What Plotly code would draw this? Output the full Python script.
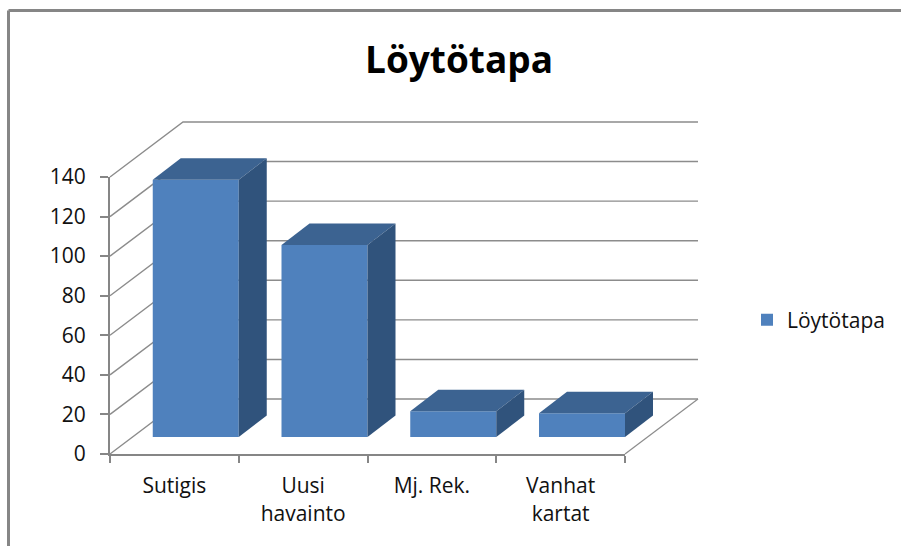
import plotly.graph_objects as go

# data
categories = ["Sutigis", "Uusi<br>havainto", "Mj. Rek.", "Vanhat<br>kartat"]
values = [130, 97, 13, 12]
y_ticks = [0, 20, 40, 60, 80, 100, 120, 140]
series_name = "Löytötapa"
title_text = "Löytötapa"

# page geometry (pixels)
W, H = 901, 546
L, R, T, B = 110, 625, 177, 454
PX_X = (R - L) / len(categories)
PX_Y = (B - T) / y_ticks[-1]

# oblique projection, expressed in axis units
wall_dx, wall_dy = 73 / PX_X, 55 / PX_Y
bar_dx, bar_dy = 28 / PX_X, 21.5 / PX_Y
bar_base = 17 / PX_Y
bar_width = 86 / PX_X

FRONT, TOP, SIDE = "#4F81BD", "#3C6391", "#30537C"
AXIS, GRID = "#868686", "#8C8C8C"
FONT = "Open Sans"
TEXT = "#111111"

# full-page axes in the same units as the visible axes, so the 3D parts can
# run past the visible plot area
full_x = [-L / PX_X, (W - L) / PX_X]
full_y = [(B - H) / PX_Y, B / PX_Y]

fig = go.Figure()

# empty trace so that the visible axes exist
fig.add_trace(go.Scatter(x=[], y=[], showlegend=False, hoverinfo="skip"))

# walls and floor
for v in y_ticks:
    fig.add_trace(go.Scatter(
        x=[0, wall_dx, len(values) + wall_dx],
        y=[v, v + wall_dy, v + wall_dy],
        mode="lines", line=dict(color=GRID, width=1.4),
        showlegend=False, hoverinfo="skip", xaxis="x2", yaxis="y2"))
fig.add_trace(go.Scatter(
    x=[len(values), len(values) + wall_dx], y=[0, wall_dy],
    mode="lines", line=dict(color=GRID, width=1.2),
    showlegend=False, hoverinfo="skip", xaxis="x2", yaxis="y2"))

# bars
xc = [i + 1 - bar_width / 2 for i in range(len(values))]
fig.add_trace(go.Bar(
    x=xc, y=values, base=[bar_base] * len(values), width=bar_width,
    name=series_name, marker=dict(color=FRONT, line=dict(width=0)),
    xaxis="x3", yaxis="y3"))
for c, v in zip(xc, values):
    x0, x1 = c - bar_width / 2, c + bar_width / 2
    y0, y1 = bar_base, bar_base + v
    fig.add_trace(go.Scatter(
        x=[x0, x1, x1 + bar_dx, x0 + bar_dx, x0],
        y=[y1, y1, y1 + bar_dy, y1 + bar_dy, y1],
        mode="lines", fill="toself", fillcolor=TOP, line=dict(width=0, color=TOP),
        showlegend=False, hoverinfo="skip", xaxis="x3", yaxis="y3"))
    fig.add_trace(go.Scatter(
        x=[x1, x1 + bar_dx, x1 + bar_dx, x1, x1],
        y=[y0, y0 + bar_dy, y1 + bar_dy, y1, y0],
        mode="lines", fill="toself", fillcolor=SIDE, line=dict(width=0, color=SIDE),
        showlegend=False, hoverinfo="skip", xaxis="x3", yaxis="y3"))

frame = dict(color=AXIS, width=3)
hidden_x = dict(range=full_x, domain=[0, 1], visible=False, anchor="y2")
hidden_y = dict(range=full_y, domain=[0, 1], visible=False, anchor="x2")

fig.update_layout(
    width=W, height=H, autosize=False,
    margin=dict(l=0, r=0, t=0, b=0, pad=0, autoexpand=False),
    paper_bgcolor="white", plot_bgcolor="rgba(0,0,0,0)",
    font=dict(family=FONT, size=21, color=TEXT),
    title=dict(text=f"<b>{title_text}</b>", x=459 / W, y=1 - 60 / H,
               xanchor="center", yanchor="middle",
               font=dict(family=FONT, size=37, color="black")),
    showlegend=True,
    legend=dict(x=747 / W, y=1 - 320 / H, xanchor="left", yanchor="middle",
                font=dict(family=FONT, size=21, color=TEXT), bgcolor="rgba(0,0,0,0)"),
    xaxis=dict(domain=[L / W, R / W], anchor="y",
               range=[0, len(values)], tickmode="array",
               tickvals=[i + 0.5 for i in range(len(values))], ticktext=categories,
               ticks="", showgrid=False, zeroline=False,
               showline=True, linecolor=AXIS, linewidth=2,
               ticklabelstandoff=12,
               minor=dict(ticks="outside", tickmode="array",
                          tickvals=list(range(len(values) + 1)),
                          ticklen=7, tickwidth=2, tickcolor=AXIS, showgrid=False)),
    yaxis=dict(domain=[1 - B / H, 1 - T / H], anchor="x",
               range=[y_ticks[0], y_ticks[-1]], tickmode="array", tickvals=y_ticks,
               ticks="outside", ticklen=8, tickwidth=2, tickcolor=AXIS,
               showgrid=False, zeroline=False,
               showline=True, linecolor=AXIS, linewidth=2,
               ticklabelstandoff=10),
    xaxis2=hidden_x,
    yaxis2=hidden_y,
    xaxis3={**hidden_x, "anchor": "y3"},
    yaxis3={**hidden_y, "anchor": "x3"},
    shapes=[
        dict(type="line", xref="paper", yref="paper", x0=8.5 / W, x1=1.01,
             y0=1 - 10.5 / H, y1=1 - 10.5 / H, line=frame),
        dict(type="line", xref="paper", yref="paper", x0=8.5 / W, x1=8.5 / W,
             y0=1 - 10.5 / H, y1=-0.01, line=frame),
    ],
)

fig.write_html("out.html", config=dict(displayModeBar=False),
               post_script="document.body.style.margin='0';")
